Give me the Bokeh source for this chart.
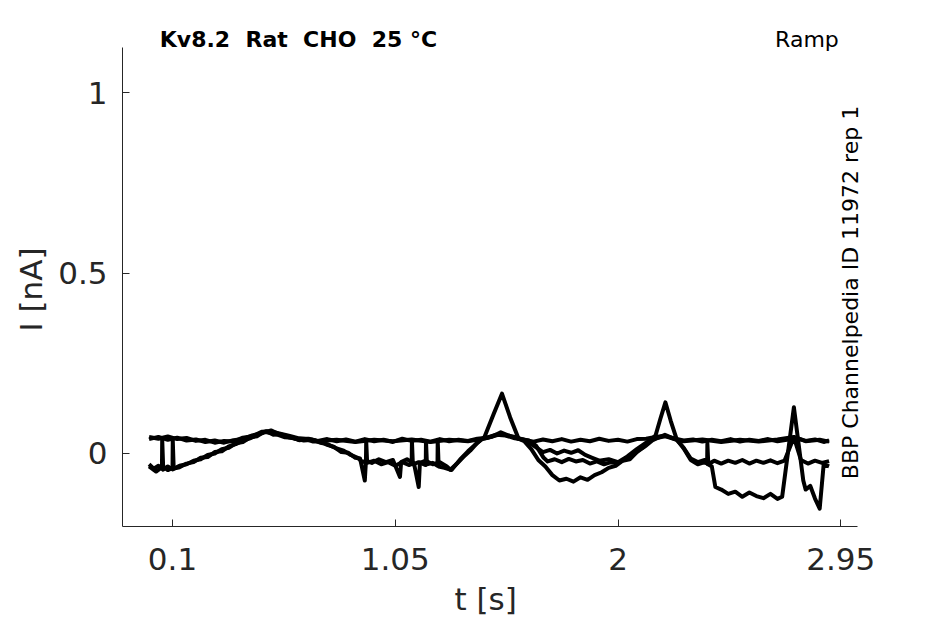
from bokeh.plotting import figure
from bokeh.models import FixedTicker, Range1d, Label, Title
from bokeh.embed import file_html
from bokeh.resources import INLINE

# ---------------- data ----------------
title_text = "Kv8.2\u00a0 Rat\u00a0 CHO\u00a0 25 °C"
protocol_text = "Ramp"
source_text = "BBP Channelpedia ID 11972 rep 1"
x_label = "t [s]"
y_label = "I [nA]"
x_ticks = [0.1, 1.05, 2.0, 2.95]
x_tick_labels = ["0.1", "1.05", "2", "2.95"]
y_ticks = [0.0, 0.5, 1.0]
y_tick_labels = ["0", "0.5", "1"]
x_axis_extent = (-0.1133, 3.021)
y_axis_extent = (-0.2025, 1.126)

# trace A: upper, nearly flat sweep
t_a = [0.00, 0.04, 0.08, 0.12, 0.16, 0.20, 0.24, 0.28, 0.32, 0.36, 0.40, 0.44,
       0.48, 0.52, 0.56, 0.60, 0.64, 0.68, 0.72, 0.76, 0.80, 0.84, 0.88, 0.92,
       0.96, 1.00, 1.04, 1.08, 1.12, 1.16, 1.20, 1.24, 1.28, 1.32, 1.36, 1.40,
       1.44, 1.48, 1.52, 1.56, 1.60, 1.64, 1.68, 1.72, 1.76, 1.80, 1.84, 1.88,
       1.92, 1.96, 2.00, 2.04, 2.08, 2.12, 2.16, 2.20, 2.24, 2.28, 2.32, 2.36,
       2.40, 2.44, 2.48, 2.52, 2.56, 2.60, 2.64, 2.68, 2.72, 2.76, 2.80, 2.84,
       2.88, 2.90]
i_a = [0.046, 0.041, 0.047, 0.040, 0.043, 0.035, 0.038, 0.030, 0.035, 0.033, 0.044, 0.048,
       0.060, 0.061, 0.055, 0.049, 0.042, 0.040, 0.035, 0.040, 0.034, 0.039, 0.033, 0.040,
       0.034, 0.038, 0.032, 0.041, 0.035, 0.038, 0.033, 0.040, 0.034, 0.038, 0.035, 0.041,
       0.044, 0.052, 0.050, 0.042, 0.038, 0.033, 0.039, 0.034, 0.040, 0.033, 0.038, 0.034,
       0.041, 0.035, 0.038, 0.033, 0.040, 0.041, 0.046, 0.049, 0.042, 0.036, 0.039, 0.033,
       0.038, 0.034, 0.040, 0.033, 0.038, 0.035, 0.040, 0.034, 0.038, 0.043, 0.035, 0.039,
       0.032, 0.036]

# trace B: sweep with the large transients
t_b = [0.00, 0.02, 0.04, 0.06, 0.08, 0.10, 0.13, 0.16, 0.19, 0.22, 0.25, 0.28,
       0.31, 0.34, 0.37, 0.40, 0.43, 0.46, 0.49, 0.52, 0.55, 0.58, 0.61, 0.64,
       0.67, 0.70, 0.73, 0.76, 0.79, 0.82, 0.85, 0.88, 0.90, 0.92, 0.925, 0.95,
       0.98, 1.01, 1.04, 1.07, 1.075, 1.10, 1.13, 1.15, 1.155, 1.18, 1.21, 1.24,
       1.27, 1.285, 1.31, 1.34, 1.37, 1.40, 1.43, 1.47, 1.505, 1.54, 1.576, 1.60,
       1.63, 1.66, 1.69, 1.72, 1.75, 1.78, 1.81, 1.84, 1.87, 1.90, 1.93, 1.96,
       1.99, 2.02, 2.05, 2.08, 2.11, 2.14, 2.16, 2.18, 2.202, 2.225, 2.25, 2.28,
       2.31, 2.34, 2.37, 2.40, 2.415, 2.44, 2.47, 2.50, 2.53, 2.56, 2.59, 2.62,
       2.65, 2.68, 2.70, 2.75, 2.79, 2.80, 2.82, 2.84, 2.86, 2.877, 2.90]
i_b = [-0.030, -0.042, -0.034, -0.045, -0.036, -0.044, -0.034, -0.030, -0.020, -0.016, -0.004, 0.000,
       0.012, 0.016, 0.028, 0.032, 0.044, 0.048, 0.060, 0.057, 0.052, 0.045, 0.044, 0.037,
       0.039, 0.033, 0.034, 0.024, 0.018, 0.004, 0.002, -0.012, -0.014, -0.075, -0.020, -0.026,
       -0.016, -0.024, -0.018, -0.065, -0.024, -0.016, -0.028, -0.093, -0.026, -0.020, -0.030, -0.024,
       -0.036, -0.045, -0.030, -0.010, 0.008, 0.030, 0.045, 0.110, 0.166, 0.100, 0.041, 0.034,
       0.012, -0.018, -0.036, -0.060, -0.075, -0.070, -0.078, -0.066, -0.073, -0.060, -0.052, -0.040,
       -0.034, -0.020, -0.016, 0.004, 0.018, 0.038, 0.050, 0.095, 0.142, 0.090, 0.040, 0.014,
       -0.018, -0.030, -0.024, -0.036, -0.093, -0.100, -0.112, -0.106, -0.120, -0.108, -0.118, -0.124,
       -0.112, -0.126, -0.120, 0.128, -0.075, -0.100, -0.090, -0.125, -0.153, -0.030, -0.036]

# trace C: middle sweep
t_c = [0.00, 0.03, 0.055, 0.056, 0.06, 0.08, 0.10, 0.101, 0.105, 0.13, 0.16, 0.19,
       0.22, 0.25, 0.28, 0.31, 0.34, 0.37, 0.40, 0.43, 0.46, 0.50, 0.53, 0.56,
       0.60, 0.63, 0.66, 0.70, 0.73, 0.76, 0.80, 0.83, 0.86, 0.89, 0.91, 0.925,
       0.926, 0.93, 0.96, 0.99, 1.02, 1.05, 1.08, 1.11, 1.12, 1.121, 1.125, 1.15,
       1.18, 1.181, 1.185, 1.21, 1.23, 1.231, 1.235, 1.26, 1.29, 1.31, 1.33, 1.36,
       1.39, 1.42, 1.46, 1.50, 1.54, 1.58, 1.62, 1.65, 1.683, 1.70, 1.73, 1.76,
       1.79, 1.82, 1.85, 1.88, 1.91, 1.94, 1.97, 2.00, 2.03, 2.06, 2.09, 2.12,
       2.15, 2.20, 2.25, 2.28, 2.31, 2.34, 2.37, 2.38, 2.381, 2.385, 2.41, 2.44,
       2.47, 2.50, 2.53, 2.56, 2.59, 2.62, 2.65, 2.68, 2.71, 2.75, 2.78, 2.81,
       2.84, 2.87, 2.90]
i_c = [-0.036, -0.050, -0.038, 0.040, -0.036, -0.046, -0.040, 0.038, -0.042, -0.038, -0.028, -0.024,
       -0.012, -0.010, 0.004, 0.006, 0.020, 0.026, 0.036, 0.042, 0.052, 0.062, 0.052, 0.054,
       0.044, 0.040, 0.036, 0.038, 0.030, 0.026, 0.014, 0.008, -0.004, -0.012, -0.024, -0.020,
       0.035, -0.026, -0.020, -0.030, -0.024, -0.034, -0.024, -0.032, -0.028, 0.036, -0.030, -0.024,
       -0.032, 0.035, -0.030, -0.026, -0.034, 0.036, -0.036, -0.040, -0.046, -0.030, -0.014, 0.006,
       0.024, 0.040, 0.046, 0.059, 0.048, 0.040, 0.036, 0.022, -0.012, -0.022, -0.016, -0.024,
       -0.015, -0.022, -0.018, -0.028, -0.022, -0.030, -0.024, -0.026, -0.016, -0.008, 0.010, 0.022,
       0.038, 0.052, 0.038, 0.016, -0.014, -0.024, -0.018, -0.028, 0.028, -0.030, -0.020, -0.028,
       -0.020, -0.026, -0.018, -0.028, -0.020, -0.026, -0.019, -0.027, -0.020, 0.045, -0.018, -0.028,
       -0.020, -0.026, -0.021]

# trace D: upper sweep that dips to an intermediate level
t_d = [0.00, 0.04, 0.08, 0.12, 0.16, 0.20, 0.24, 0.28, 0.32, 0.36, 0.40, 0.44,
       0.48, 0.52, 0.56, 0.60, 0.64, 0.68, 0.72, 0.80, 0.88, 0.96, 1.04, 1.12,
       1.20, 1.28, 1.36, 1.44, 1.50, 1.56, 1.60, 1.64, 1.68, 1.71, 1.74, 1.77,
       1.80, 1.83, 1.86, 1.89, 1.92, 1.96, 2.00, 2.04, 2.08, 2.12, 2.16, 2.20,
       2.24, 2.28, 2.36, 2.44, 2.52, 2.60, 2.68, 2.75, 2.80, 2.86, 2.90]
i_d = [0.040, 0.046, 0.038, 0.044, 0.036, 0.039, 0.032, 0.036, 0.030, 0.037, 0.040, 0.050,
       0.056, 0.064, 0.052, 0.046, 0.038, 0.041, 0.034, 0.038, 0.032, 0.038, 0.034, 0.039,
       0.032, 0.038, 0.034, 0.043, 0.054, 0.046, 0.038, 0.022, 0.004, 0.010, 0.000, 0.008,
       0.002, 0.009, -0.004, -0.012, -0.020, -0.016, -0.024, -0.008, 0.012, 0.030, 0.042, 0.048,
       0.040, 0.034, 0.039, 0.032, 0.038, 0.033, 0.039, 0.046, 0.034, 0.038, 0.033]

traces = [(t_a, i_a), (t_b, i_b), (t_c, i_c), (t_d, i_d)]

# ---------------- figure ----------------
TXT = "#262626"
FONT = "DejaVu Sans"

# frame extended upward and rightward (invisible) so the texts are not clipped;
# the axis lines are limited with `bounds` to the original axes box.
p = figure(width=945, height=624, output_backend="svg", toolbar_location=None,
           x_range=Range1d(-0.1133, 3.0767), y_range=Range1d(-0.2025, 1.2011),
           min_border_left=122, min_border_right=75, min_border_top=20,
           min_border_bottom=98, background_fill_color="white",
           border_fill_color="white")
p.outline_line_color = None
p.grid.visible = False

for t, i in traces:
    p.line(t, i, line_color="black", line_width=4, line_join="round")

for ax, ticks, labels, ext in ((p.xaxis[0], x_ticks, x_tick_labels, x_axis_extent),
                              (p.yaxis[0], y_ticks, y_tick_labels, y_axis_extent)):
    ax.bounds = ext
    ax.ticker = FixedTicker(ticks=ticks, minor_ticks=[])
    ax.major_label_overrides = {float(k): v for k, v in zip(ticks, labels)}
    ax.major_tick_in = 7
    ax.major_tick_out = 0
    ax.minor_tick_in = 0
    ax.minor_tick_out = 0
    ax.axis_line_color = TXT
    ax.major_tick_line_color = TXT
    ax.major_label_text_font = FONT
    ax.major_label_text_font_size = "31px"
    ax.major_label_text_color = TXT

p.xaxis.major_label_standoff = 21
p.yaxis.major_label_standoff = 15

# axis labels as side titles so they are placed relative to the axes box
p.add_layout(Title(text=y_label, align="left", vertical_align="top",
                   offset=195, standoff=10,
                   text_font=FONT, text_font_size="31px",
                   text_font_style="normal", text_color=TXT), "left")
p.add_layout(Title(text=x_label, align="left", vertical_align="bottom",
                   offset=332, standoff=12, text_font=FONT,
                   text_font_size="31px", text_font_style="normal",
                   text_color=TXT), "below")

p.add_layout(Label(x=159.3, y=39.2, x_units="canvas", y_units="canvas",
                   text=title_text, text_font=FONT,
                   text_font_size="22px", text_font_style="bold",
                   text_color="black", text_align="left",
                   text_baseline="alphabetic"))
p.add_layout(Label(x=838.3, y=38.5, x_units="canvas", y_units="canvas",
                   text=protocol_text, text_font=FONT,
                   text_font_size="22px", text_color="black",
                   text_align="right", text_baseline="alphabetic"))
p.add_layout(Label(x=850.0, y=292.0, x_units="canvas", y_units="canvas",
                   text=source_text, text_font=FONT,
                   text_font_size="22px", text_color="black", angle=1.5707963,
                   text_align="center", text_baseline="alphabetic"))

open("out.html", "w").write(file_html(p, INLINE))
